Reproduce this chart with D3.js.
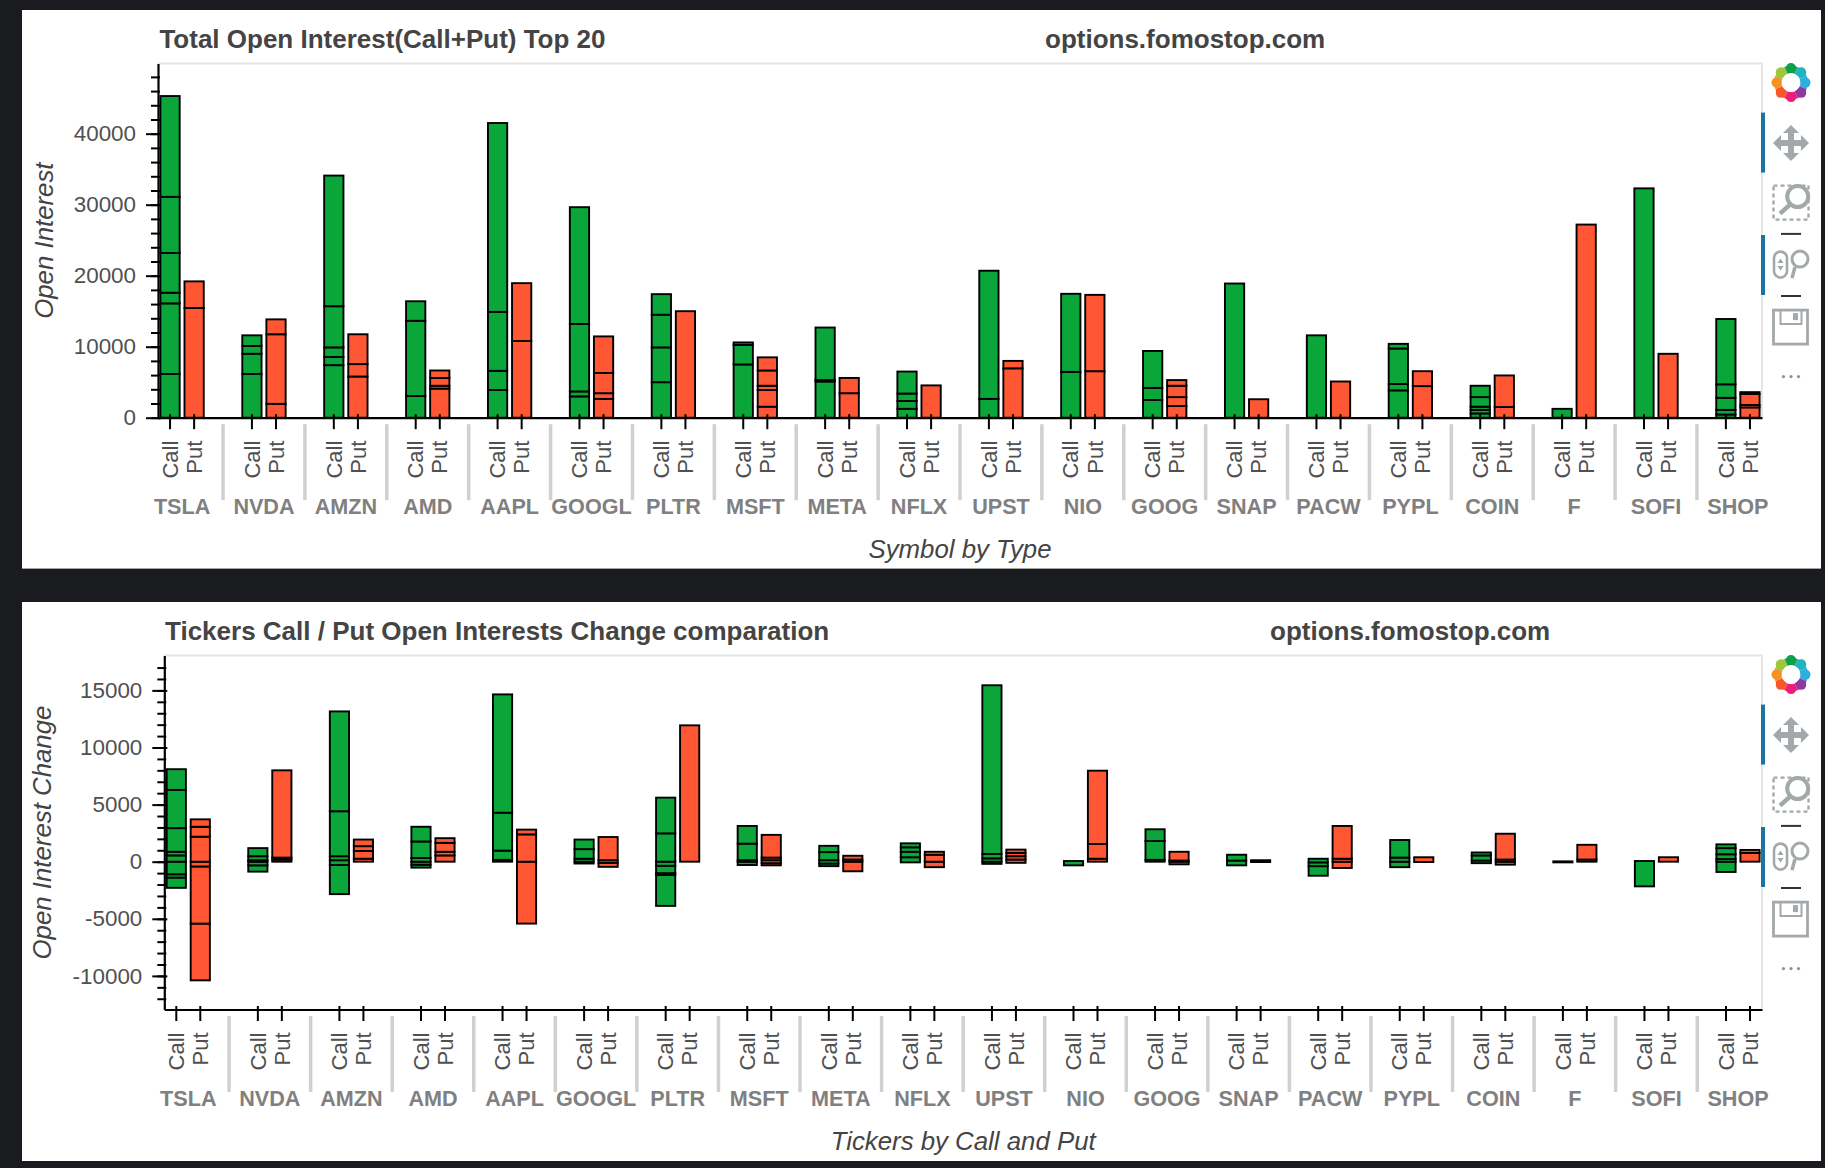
<!DOCTYPE html>
<html>
<head>
<meta charset="utf-8">
<script src="https://cdn.jsdelivr.net/npm/d3@7"></script>
<style>
html, body { margin: 0; padding: 0; background: #1a1b1e; }
svg { display: block; }
text { font-family: "Liberation Sans", Arial, sans-serif; }
</style>
</head>
<body>
<svg id="page" width="1825" height="1168"></svg>
<script>
// values, each row = the levels where a segment ends, per symbol
var symbols = ["TSLA", "NVDA", "AMZN", "AMD", "AAPL", "GOOGL", "PLTR", "MSFT", "META", "NFLX", "UPST", "NIO", "GOOG", "SNAP", "PACW", "PYPL", "COIN", "F", "SOFI", "SHOP"];
var types = ["Call", "Put"];

var callOi = [
  [0, 6150, 16100, 17600, 23200, 31100, 45300],
  [0, 6150, 9000, 10100, 11600],
  [0, 7400, 8550, 9900, 15700, 34100],
  [0, 3050, 13650, 16400],
  [0, 3900, 6600, 14900, 41500],
  [0, 3000, 3700, 13200, 29650],
  [0, 5000, 9900, 14500, 17400],
  [0, 7500, 10250, 10600],
  [0, 5100, 5300, 12700],
  [0, 1250, 2350, 3400, 6500],
  [0, 2650, 20700],
  [0, 6450, 17450],
  [0, 2500, 4200, 9400],
  [0, 18900],
  [0, 11600],
  [0, 3850, 4750, 9750, 10400],
  [0, 600, 1100, 1550, 2900, 4500],
  [0, 1250],
  [0, 32300],
  [0, 450, 1100, 2800, 4700, 13900]
];
var putOi = [
  [0, 15450, 19200],
  [0, 1950, 11750, 13850],
  [0, 5800, 7550, 11750],
  [0, 4100, 4500, 5600, 6650],
  [0, 10800, 18950],
  [0, 2650, 3450, 6300, 11450],
  [0, 15000],
  [0, 1550, 3900, 4500, 6650, 8500],
  [0, 3450, 5600],
  [0, 4550],
  [0, 6950, 8000],
  [0, 6550, 17300],
  [0, 1650, 2900, 4500, 5300],
  [0, 2600],
  [0, 5100],
  [0, 4450, 6550],
  [0, 1500, 5950],
  [0, 27200],
  [0, 9000],
  [0, 1450, 1800, 3350, 3600]
];
var callChange = [
  [-2290, -1390, -1100, 0, 550, 870, 2940, 6290, 8100],
  [-870, -320, 0, 130, 480, 1190],
  [-2840, -290, 130, 480, 4420, 13160],
  [-520, -260, 0, 320, 1770, 3060],
  [0, 160, 970, 4290, 14650],
  [-160, 0, 260, 1100, 1940],
  [-3870, -1160, -1000, -360, 0, 2480, 5610],
  [-290, 0, 130, 1580, 3130],
  [-390, -160, 130, 840, 1390],
  [-60, 390, 870, 1260, 1610],
  [-190, 0, 290, 680, 15450],
  [-320, 60],
  [0, 160, 1810, 2840],
  [-320, 100, 610],
  [-1230, -390, -60, 260],
  [-480, 0, 360, 1900],
  [-130, 100, 550, 810],
  [-60, 30],
  [-2160, 60],
  [-900, 0, 230, 650, 1190, 1520]
];
var putChange = [
  [-10390, -5420, -420, 0, 2190, 3060, 3710],
  [0, 190, 360, 8000],
  [0, 260, 940, 1360, 1940],
  [0, 550, 870, 1650, 2060],
  [-5420, 0, 2390, 2810],
  [-450, -100, 130, 2160],
  [0, 11940],
  [-320, -130, 130, 360, 2350],
  [-840, 0, 190, 520],
  [-480, 0, 610, 870],
  [-100, 190, 480, 770, 1060],
  [0, 260, 1550, 7970],
  [-230, 0, 100, 870],
  [-30, 130],
  [-550, 0, 260, 3130],
  [-30, 390],
  [-260, 0, 190, 2450],
  [0, 190, 1480],
  [0, 390],
  [0, 770, 1030]
];

var oiTicks = [0, 10000, 20000, 30000, 40000];
var oiMinor = d3.range(0, 50000, 2000);
var changeTicks = [-10000, -5000, 0, 5000, 10000, 15000];
var changeMinor = d3.range(-12000, 18000, 1000);

var svg = d3.select("#page");
var GREEN = "#0aa639", RED = "#ff5733", INK = "#444444", LABEL = "#505050";

function drawChart(o) {
  var g = svg.append("g");

  g.append("rect")
    .attr("x", 22).attr("y", o.panel[0])
    .attr("width", 1799).attr("height", o.panel[1] - o.panel[0])
    .attr("fill", "#fff");

  var y = d3.scaleLinear().domain(o.domain).range([o.bottom, o.top]);
  var x0 = d3.scaleBand().domain(symbols).range([o.left, o.right])
    .paddingInner(1.4 / 3.4).paddingOuter(0);
  var x1 = d3.scaleBand().domain(types).range([0, x0.bandwidth()]);
  var barW = x1.bandwidth() * 0.8;

  // plot frame
  g.append("path")
    .attr("d", "M" + o.left + "," + o.top + "H" + o.right + "V" + o.bottom)
    .attr("fill", "none").attr("stroke", "#e5e5e5").attr("stroke-width", 2);

  // group separators
  g.selectAll(".sep").data(d3.pairs(symbols)).enter().append("line")
    .attr("class", "sep")
    .attr("x1", d => (x0(d[0]) + x0.bandwidth() + x0(d[1])) / 2)
    .attr("x2", d => (x0(d[0]) + x0.bandwidth() + x0(d[1])) / 2)
    .attr("y1", o.bottom + 6.5).attr("y2", o.bottom + 82.5)
    .attr("stroke", "#d0d0d0").attr("stroke-width", 3.5);

  // bars, one rect per pair of levels
  types.forEach(function(type, t) {
    var rows = t == 0 ? o.calls : o.puts;
    symbols.forEach(function(sym, i) {
      g.selectAll(".seg" + t + "-" + i).data(d3.pairs(rows[i])).enter().append("rect")
        .attr("x", x0(sym) + x1(type) + (x1.bandwidth() - barW) / 2)
        .attr("width", barW)
        .attr("y", d => y(d[1]))
        .attr("height", d => y(d[0]) - y(d[1]))
        .attr("fill", t == 0 ? GREEN : RED)
        .attr("stroke", "#000").attr("stroke-width", 1.9);
    });
  });

  // y axis, minor then major
  g.append("g").attr("transform", "translate(" + o.left + ",0)")
    .call(d3.axisLeft(y).tickValues(o.minor).tickFormat("").tickSizeOuter(0))
    .call(a => a.selectAll(".tick line").attr("x1", 2).attr("x2", -7).attr("stroke", "#000").attr("stroke-width", 2))
    .call(a => a.select(".domain").attr("stroke", "#000").attr("stroke-width", 2.2));
  g.append("g").attr("transform", "translate(" + o.left + ",0)")
    .call(d3.axisLeft(y).tickValues(o.major).tickFormat(d => String(d)).tickSizeOuter(0).tickPadding(16))
    .call(a => a.selectAll(".tick line").attr("x1", 3).attr("x2", -12).attr("stroke", "#000").attr("stroke-width", 2))
    .call(a => a.select(".domain").remove())
    .call(a => a.selectAll("text").attr("font-size", 22.4).attr("font-family", "Liberation Sans").attr("fill", LABEL));

  // x axis: domain and group names from the outer scale
  g.append("g").attr("transform", "translate(0," + o.bottom + ")")
    .call(d3.axisBottom(x0).tickSize(0).tickPadding(0).tickSizeOuter(0))
    .call(a => a.select(".domain").attr("stroke", "#000").attr("stroke-width", 2.2))
    .call(a => a.selectAll("text")
      .attr("y", 89).attr("dy", ".35em")
      .attr("font-size", 21.6).attr("font-weight", "bold")
      .attr("font-family", "Liberation Sans").attr("fill", "#808080"));

  // x axis: Call / Put inside every group
  symbols.forEach(function(sym) {
    g.append("g").attr("transform", "translate(" + x0(sym) + "," + o.bottom + ")")
      .call(d3.axisBottom(x1).tickSizeOuter(0))
      .call(a => a.select(".domain").remove())
      .call(a => a.selectAll(".tick line").attr("y1", -3.5).attr("y2", 11.5).attr("stroke", "#000").attr("stroke-width", 2))
      .call(a => a.selectAll("text")
        .attr("transform", "rotate(-90)")
        .attr("x", -23).attr("y", 0).attr("dy", ".35em")
        .attr("text-anchor", "end")
        .attr("font-size", 22).attr("font-family", "Liberation Sans").attr("fill", LABEL));
  });

  // titles
  g.append("text").attr("x", o.titleX).attr("y", o.top - 24.5).attr("dy", ".35em")
    .attr("font-size", 26).attr("font-weight", "bold").attr("fill", INK).text(o.title);
  g.append("text").attr("x", o.siteX).attr("y", o.top - 24.5).attr("dy", ".35em")
    .attr("font-size", 26).attr("font-weight", "bold").attr("fill", INK).text("options.fomostop.com");

  g.append("text").attr("x", (o.left + o.right) / 2).attr("y", o.bottom + 131.5).attr("dy", ".35em")
    .attr("text-anchor", "middle").attr("font-size", 25.8).attr("font-style", "italic").attr("fill", INK).text(o.xLabel);
  g.append("text")
    .attr("transform", "translate(" + o.yLabelX + "," + (o.top + o.bottom) / 2 + ") rotate(-90)")
    .attr("dy", ".35em").attr("text-anchor", "middle")
    .attr("font-size", 25.8).attr("font-style", "italic").attr("fill", INK).text(o.yLabel);

  drawToolbar(g, o.top, o.right);
}

// bokeh toolbar, icons only
function drawToolbar(g, top, right) {
  var cx = 1791, GREY = "#a3a9ab";
  var tb = g.append("g").attr("transform", "translate(" + cx + "," + top + ")");

  var logoColors = ["#0aa14a", "#20b5c0", "#2bb0e0", "#8e3a9d", "#ed1e79", "#f9572a", "#f7931e", "#9cc83a"];
  var arc = d3.arc().innerRadius(9.5).outerRadius(17);
  var pie = d3.pie().value(1).sort(null).startAngle(-Math.PI / 8).endAngle(2 * Math.PI - Math.PI / 8);
  var petals = tb.selectAll(".petal").data(pie(logoColors)).enter().append("g")
    .attr("transform", "translate(0,19)");
  petals.append("path").attr("d", arc).attr("fill", d => d.data);
  petals.append("circle")
    .attr("cx", d => 14.5 * Math.sin((d.startAngle + d.endAngle) / 2))
    .attr("cy", d => -14.5 * Math.cos((d.startAngle + d.endAngle) / 2))
    .attr("r", 5).attr("fill", d => d.data);

  [[49, 109], [171.4, 231.4]].forEach(function(b) {
    g.append("rect").attr("x", right - 1).attr("y", top + b[0])
      .attr("width", 4).attr("height", b[1] - b[0]).attr("fill", "#1a75a0");
  });

  // pan
  var pan = tb.append("g").attr("transform", "translate(0,79.3)");
  pan.append("path").attr("d", "M-12,0H12M0,-12V12").attr("stroke", GREY).attr("stroke-width", 6);
  pan.append("path").attr("d", "M0,-18L-8,-10H8ZM0,18L-8,10H8ZM-18,0L-10,-8V8ZM18,0L10,-8V8Z").attr("fill", GREY);

  // box zoom
  var box = tb.append("g").attr("transform", "translate(0,139)");
  box.append("rect").attr("x", -17.5).attr("y", -17).attr("width", 35).attr("height", 34)
    .attr("fill", "none").attr("stroke", GREY).attr("stroke-width", 2.4).attr("stroke-dasharray", "4,3");
  box.append("circle").attr("cx", 6.7).attr("cy", -6).attr("r", 10.5).attr("fill", "#fff").attr("stroke", GREY).attr("stroke-width", 4);
  box.append("line").attr("x1", -1).attr("y1", 2).attr("x2", -11).attr("y2", 11).attr("stroke", GREY).attr("stroke-width", 4.5);

  tb.append("line").attr("x1", -10).attr("x2", 10).attr("y1", 170.3).attr("y2", 170.3).attr("stroke", "#333").attr("stroke-width", 2);

  // wheel zoom
  var wheel = tb.append("g").attr("transform", "translate(0,201)");
  wheel.append("rect").attr("x", -17).attr("y", -13).attr("width", 13).attr("height", 26).attr("rx", 6.5)
    .attr("fill", "none").attr("stroke", GREY).attr("stroke-width", 2.6);
  wheel.append("path").attr("d", "M-10.5,-6L-13.5,-1.5H-7.5ZM-10.5,6L-13.5,1.5H-7.5Z").attr("fill", GREY);
  wheel.append("circle").attr("cx", 9).attr("cy", -5.5).attr("r", 8).attr("fill", "#fff").attr("stroke", GREY).attr("stroke-width", 3);
  wheel.append("line").attr("x1", 4).attr("y1", 2.5).attr("x2", 1).attr("y2", 13.5).attr("stroke", GREY).attr("stroke-width", 3.5);

  tb.append("line").attr("x1", -10).attr("x2", 10).attr("y1", 232.4).attr("y2", 232.4).attr("stroke", "#333").attr("stroke-width", 2);

  // save
  var save = tb.append("g").attr("transform", "translate(-0.5,263.5)");
  save.append("rect").attr("x", -17).attr("y", -17).attr("width", 34).attr("height", 34)
    .attr("fill", "none").attr("stroke", GREY).attr("stroke-width", 2.8);
  save.append("path").attr("d", "M-10,-17V-3H11V-17").attr("fill", "none").attr("stroke", GREY).attr("stroke-width", 2);
  save.append("rect").attr("x", 2.5).attr("y", -14).attr("width", 5).attr("height", 7).attr("fill", GREY);

  // more
  tb.selectAll(".dot").data([-7.5, 0, 7.5]).enter().append("circle")
    .attr("cx", d => d).attr("cy", 313).attr("r", 1.6).attr("fill", "#9a8f85");
}

drawChart({
  panel: [10, 568.6], top: 63.6, bottom: 417.7, left: 158, right: 1762,
  domain: [0, 49870], major: oiTicks, minor: oiMinor, calls: callOi, puts: putOi,
  title: "Total Open Interest(Call+Put) Top 20", titleX: 159.4, siteX: 1045,
  xLabel: "Symbol by Type", yLabel: "Open Interest", yLabelX: 44
});
drawChart({
  panel: [602, 1161], top: 655.6, bottom: 1009.5, left: 164.3, right: 1762,
  domain: [-12942, 18047], major: changeTicks, minor: changeMinor, calls: callChange, puts: putChange,
  title: "Tickers Call / Put Open Interests Change comparation", titleX: 165, siteX: 1270,
  xLabel: "Tickers by Call and Put", yLabel: "Open Interest Change", yLabelX: 42
});
</script>
</body>
</html>
